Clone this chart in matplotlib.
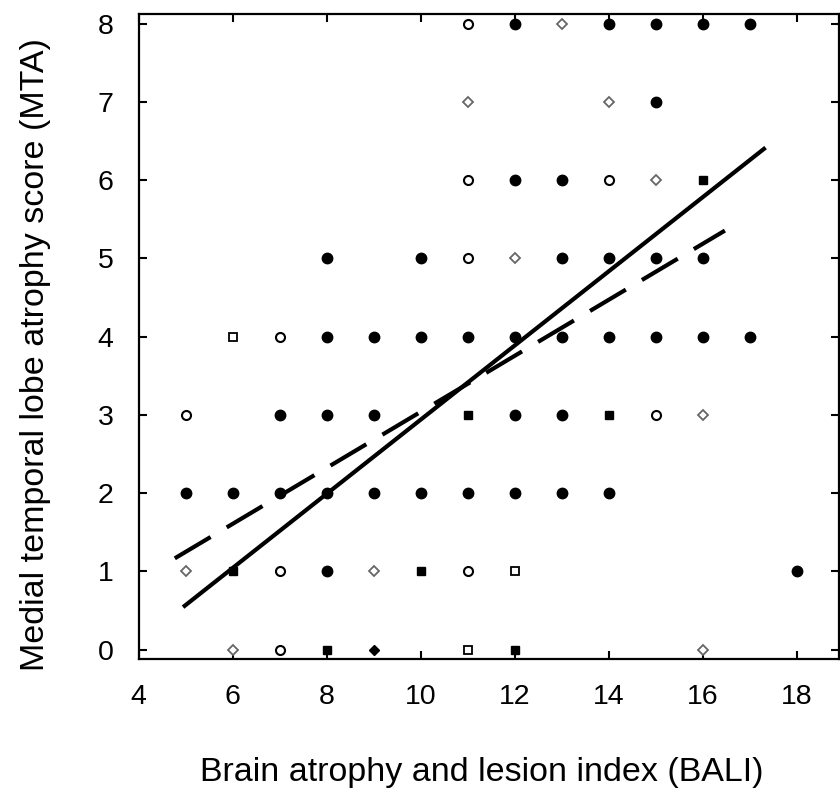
import matplotlib.pyplot as plt
import numpy as np

plt.rcParams['font.family'] = ['Liberation Sans', 'DejaVu Sans']

# points, grouped by marker style (BALI, MTA)
filled_circle_x = [12, 14, 15, 16, 17, 15, 12, 13, 8, 10, 13, 14, 15, 16,
                   8, 9, 10, 11, 12, 13, 14, 15, 16, 17, 7, 8, 9, 12, 13,
                   5, 6, 7, 8, 9, 10, 11, 12, 13, 14, 8, 18]
filled_circle_y = [8, 8, 8, 8, 8, 7, 6, 6, 5, 5, 5, 5, 5, 5,
                   4, 4, 4, 4, 4, 4, 4, 4, 4, 4, 3, 3, 3, 3, 3,
                   2, 2, 2, 2, 2, 2, 2, 2, 2, 2, 1, 1]
open_circle_x = [11, 11, 14, 11, 7, 5, 15, 7, 11, 7]
open_circle_y = [8, 6, 6, 5, 4, 3, 3, 1, 1, 0]
open_diamond_x = [13, 11, 14, 15, 12, 16, 5, 9, 6, 16]
open_diamond_y = [8, 7, 7, 6, 5, 3, 1, 1, 0, 0]
filled_square_x = [16, 11, 14, 6, 10, 8, 12]
filled_square_y = [6, 3, 3, 1, 1, 0, 0]
open_square_x = [6, 12, 11]
open_square_y = [4, 1, 0]
filled_diamond_x = [9]
filled_diamond_y = [0]

# regression lines (slope, intercept, x range)
solid_fit = (0.474, -1.80)
solid_range = [4.98, 17.3]
dashed_fit = (0.358, -0.54)
dashed_range = [4.77, 16.47]

fig = plt.figure(figsize=(8.4, 7.96), dpi=100)
ax = fig.add_axes([0.165, 0.172, 0.834, 0.810])

ax.plot(filled_circle_x, filled_circle_y, 'o', color='black', markersize=7.5, zorder=3)
ax.plot(open_circle_x, open_circle_y, 'o', mfc='white', mec='black', mew=1.5,
        markersize=6.5, zorder=3)
ax.plot(open_diamond_x, open_diamond_y, 'D', mfc='white', mec='#666666', mew=1.3,
        markersize=5.5, zorder=3)
ax.plot(filled_square_x, filled_square_y, 's', color='black', markersize=5.5, zorder=3)
ax.plot(open_square_x, open_square_y, 's', mfc='white', mec='black', mew=1.3,
        markersize=5.5, zorder=3)
ax.plot(filled_diamond_x, filled_diamond_y, 'D', color='black', markersize=5.5, zorder=3)

xs = np.array(solid_range)
ax.plot(xs, solid_fit[0] * xs + solid_fit[1], color='black', lw=3, zorder=4)
xd = np.array(dashed_range)
ax.plot(xd, dashed_fit[0] * xd + dashed_fit[1], color='black', lw=3,
        dashes=(10, 4.5), zorder=4)

ax.set_xlim(4, 18.9)
ax.set_ylim(-0.12, 8.12)
ax.set_xticks(range(4, 19, 2))
ax.set_yticks(range(0, 9))
ax.tick_params(direction='in', top=True, right=True, length=6, width=1.5,
               labelsize=20.5)
ax.tick_params(axis='x', pad=18)
ax.tick_params(axis='y', pad=18)
for s in ax.spines.values():
    s.set_linewidth(1.6)

ax.set_xlabel('Brain atrophy and lesion index (BALI)', fontsize=24.5)
ax.set_ylabel('Medial temporal lobe atrophy score (MTA)', fontsize=24.5)
ax.xaxis.set_label_coords(0.49, -0.152)
ax.yaxis.set_label_coords(-0.1256, 0.472)

fig.savefig('out.png', dpi=100)
